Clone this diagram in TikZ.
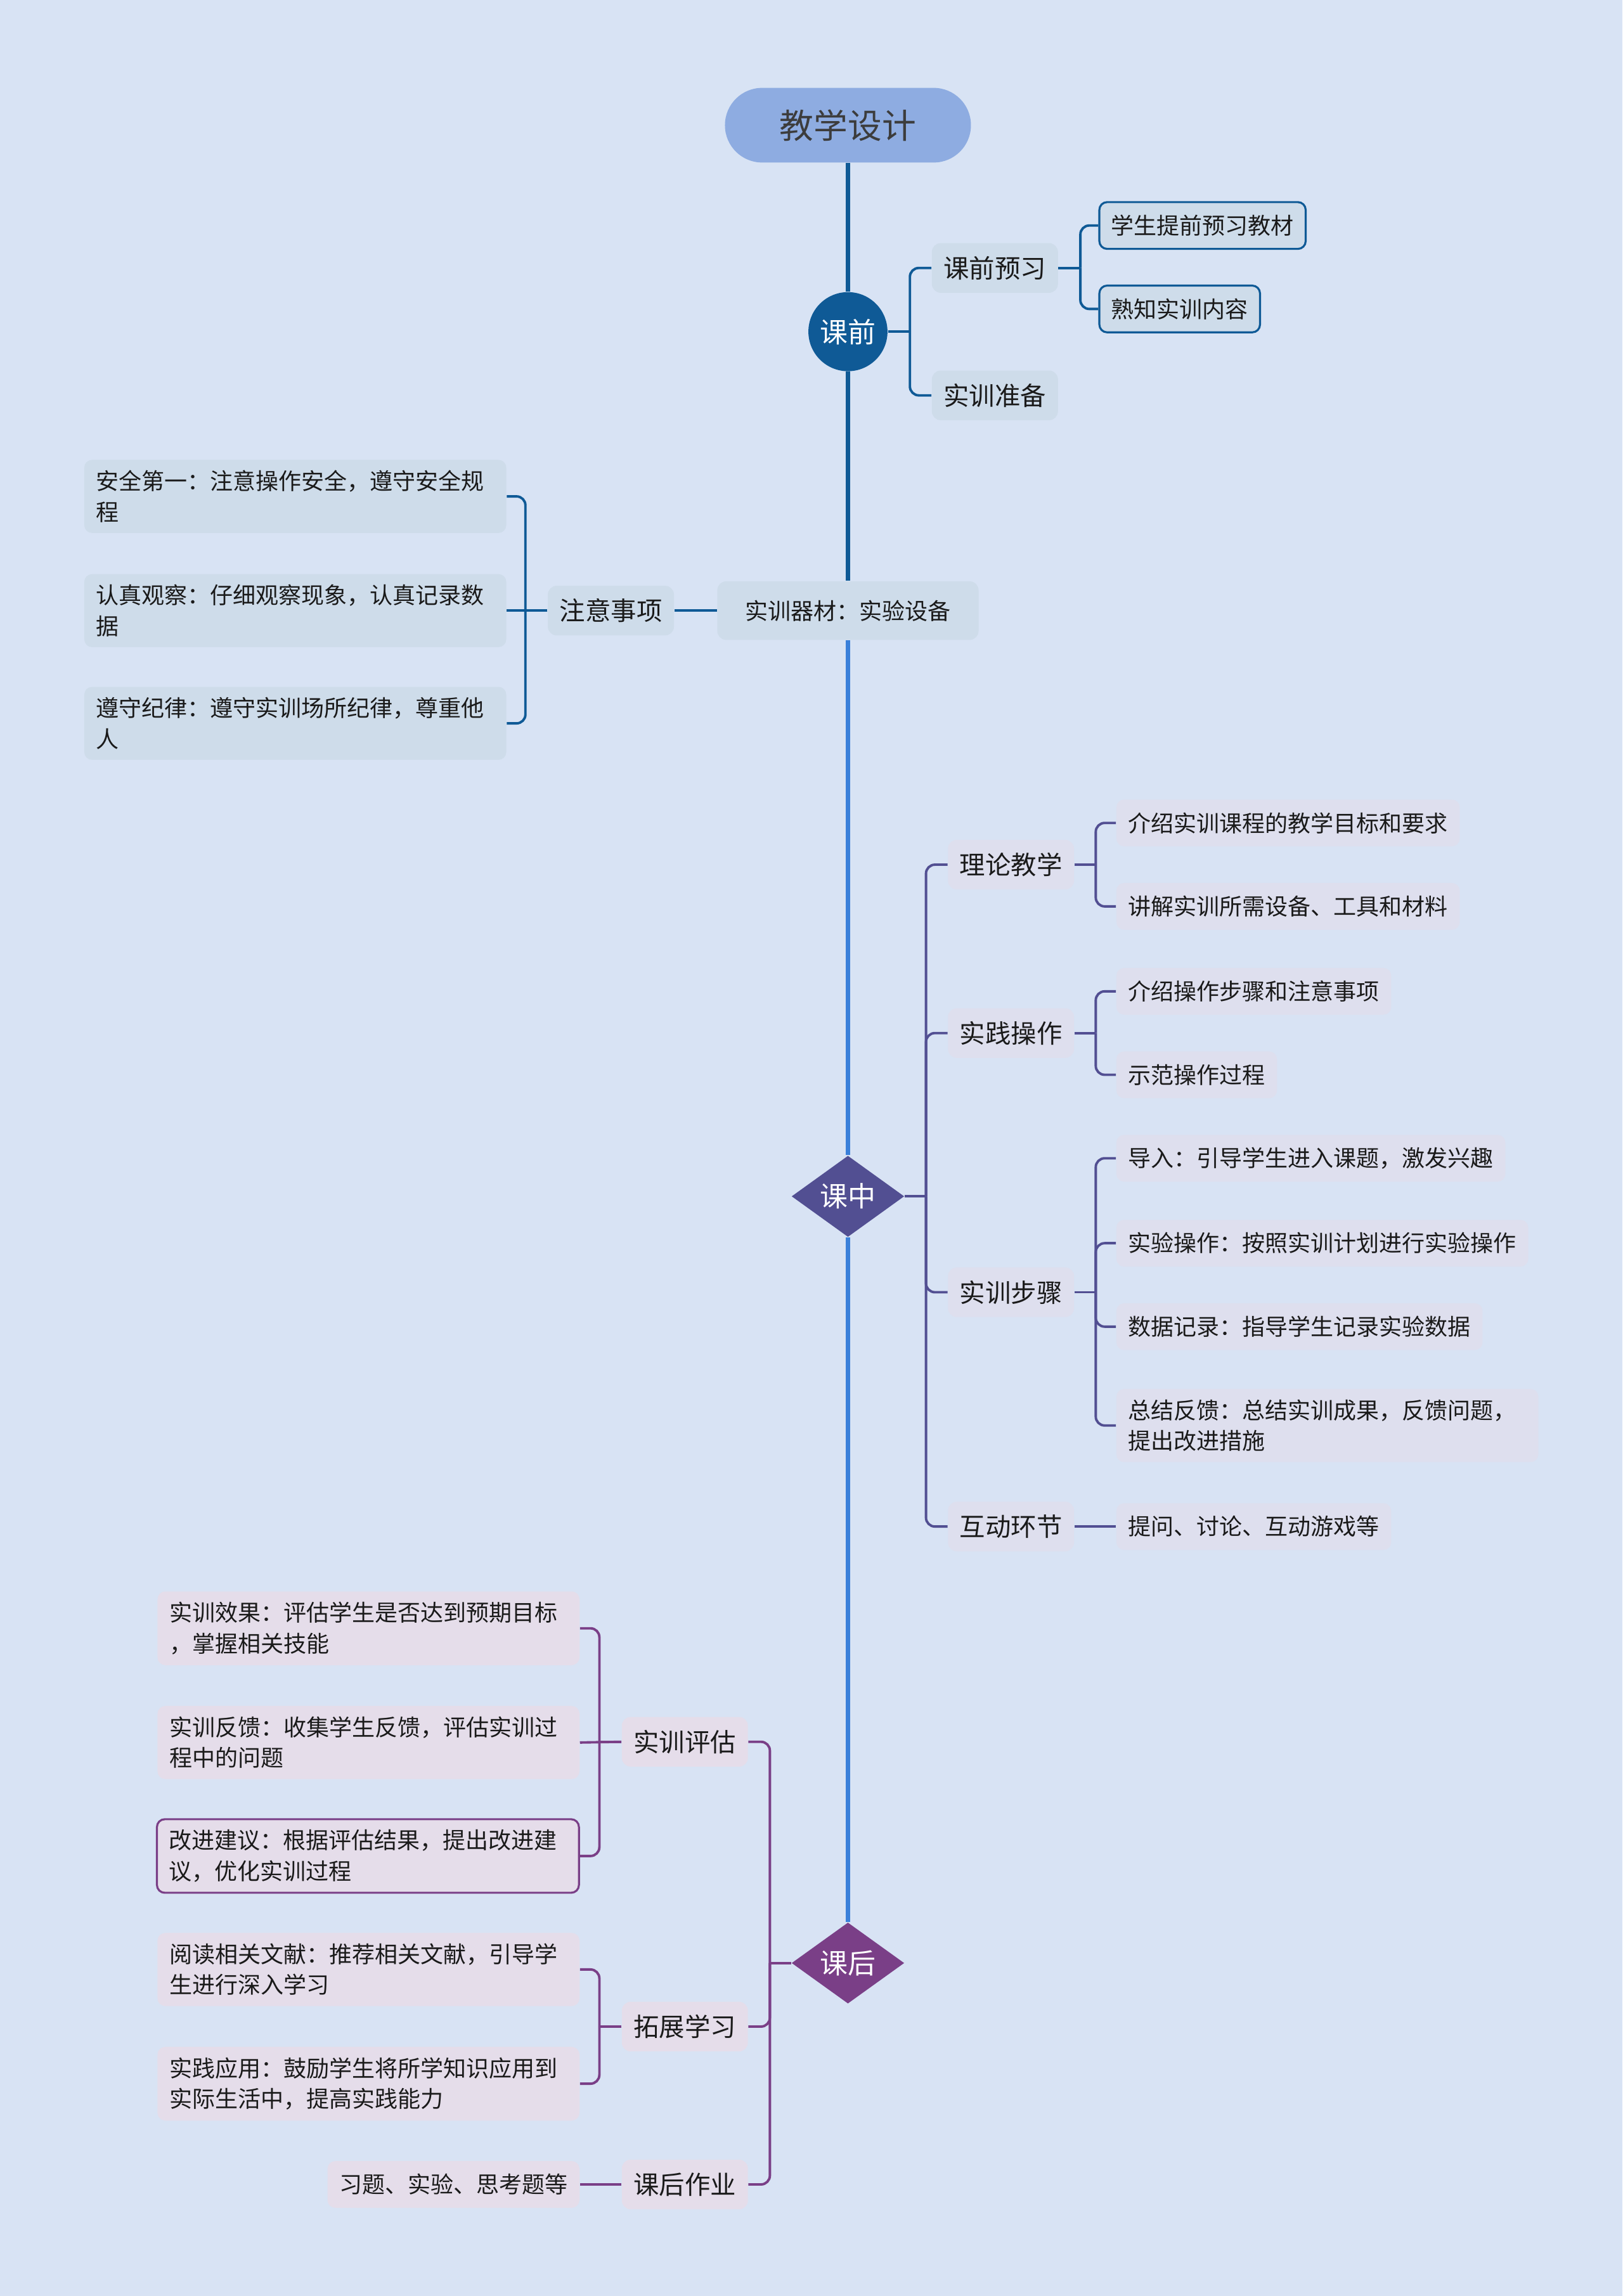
\documentclass[tikz,border=0pt]{standalone}
\usepackage{fontspec}
\setmainfont{Noto Sans CJK SC}
\usetikzlibrary{shapes.geometric, positioning}
\definecolor{MapBg}{HTML}{D8E3F4}
\definecolor{RootBlue}{HTML}{8EACE1}
\definecolor{PreDark}{HTML}{0F5A96}
\definecolor{TrunkBlue}{HTML}{3A80DA}
\definecolor{MidPurple}{HTML}{524F92}
\definecolor{PostPurple}{HTML}{7A3F87}
\definecolor{PreFill}{HTML}{CEDCEA}
\definecolor{MidFill}{HTML}{DEDFEE}
\definecolor{PostFill}{HTML}{E5DDEA}
\definecolor{InkGray}{HTML}{1A1A1A}

\newcommand{\leaffont}{\fontsize{10.25pt}{13.8pt}\selectfont}
\newcommand{\subfont}{\fontsize{11.5pt}{14pt}\selectfont}

\begin{document}
\begin{tikzpicture}[x=0.023105cm, y=-0.023105cm,
        rootbox/.style={rectangle, rounded corners=16.7pt, fill=RootBlue, minimum width=110.4pt, minimum height=33.5pt, text=InkGray!85, font=\fontsize{15.3pt}{18pt}\selectfont},
        stagecircle/.style={circle, fill=PreDark, minimum size=35.5pt, inner sep=0pt, text=white, font=\fontsize{12.5pt}{15pt}\selectfont},
        stagediamond/.style={diamond, minimum width=50.6pt, minimum height=32.9pt, inner sep=0pt, text=white, font=\fontsize{12.5pt}{15pt}\selectfont},
        subbox/.style={rectangle, rounded corners=4pt, minimum height=22.3pt, inner xsep=5.3pt, inner ysep=3pt, text=InkGray, font=\subfont},
        leafbox/.style={rectangle, rounded corners=3.5pt, minimum height=21pt, inner xsep=5.3pt, inner ysep=4.75pt, text=InkGray, font=\leaffont, align=left},
        widebox/.style={leafbox, text width=178.8pt},
        trunk/.style={line width=1.9pt},
        link/.style={line width=1.1pt},
        elbow/.style={link, rounded corners=4pt}]

        \fill[MapBg] (0,0) rectangle (1108,1568);
        \useasboundingbox (0,0) rectangle (1108,1568);

        % main line
        \node[rootbox] (root) at (579,85.5) {教学设计};
        \node[stagecircle] (pre) at (579,226.5) {课前};
        \node[subbox, fill=PreFill, minimum height=26.3pt, inner xsep=12.5pt, font=\leaffont] (equip) at (579,417) {实训器材：实验设备};
        \node[stagediamond, fill=MidPurple] (mid) at (579,817) {课中};
        \node[stagediamond, fill=PostPurple] (post) at (579,1340.6) {课后};

        % 课前
        \node[subbox, fill=PreFill, anchor=west] (preview) at (636,183) {课前预习};
        \node[subbox, fill=PreFill, anchor=west] (prepare) at (636,270) {实训准备};
        \node[leafbox, fill=PreFill, draw=PreDark, line width=0.9pt, anchor=west] (textbook) at (750,154) {学生提前预习教材};
        \node[leafbox, fill=PreFill, draw=PreDark, line width=0.9pt, anchor=west] (content) at (750,211) {熟知实训内容};

        % 注意事项
        \node[subbox, fill=PreFill, anchor=east] (notice) at (460.5,417) {注意事项};
        \node[widebox, fill=PreFill, anchor=east] (safety) at (346,339) {安全第一：注意操作安全，遵守安全规\\程};
        \node[widebox, fill=PreFill, anchor=east] (observe) at (346,417) {认真观察：仔细观察现象，认真记录数\\据};
        \node[widebox, fill=PreFill, anchor=east] (rules) at (346,494) {遵守纪律：遵守实训场所纪律，尊重他\\人};

        % 课中
        \node[subbox, fill=MidFill, anchor=west] (theory) at (647,590.5) {理论教学};
        \node[subbox, fill=MidFill, anchor=west] (practice) at (647,705.5) {实践操作};
        \node[subbox, fill=MidFill, anchor=west] (steps) at (647,882.5) {实训步骤};
        \node[subbox, fill=MidFill, anchor=west] (interact) at (647,1042.5) {互动环节};
        \node[leafbox, fill=MidFill, anchor=west] (goals) at (762,562) {介绍实训课程的教学目标和要求};
        \node[leafbox, fill=MidFill, anchor=west] (tools) at (762,619) {讲解实训所需设备、工具和材料};
        \node[leafbox, fill=MidFill, anchor=west] (procedure) at (762,677) {介绍操作步骤和注意事项};
        \node[leafbox, fill=MidFill, anchor=west] (demo) at (762,734) {示范操作过程};
        \node[leafbox, fill=MidFill, anchor=west] (intro) at (762,791) {导入：引导学生进入课题，激发兴趣};
        \node[leafbox, fill=MidFill, anchor=west] (experiment) at (762,849) {实验操作：按照实训计划进行实验操作};
        \node[leafbox, fill=MidFill, anchor=west] (record) at (762,906) {数据记录：指导学生记录实验数据};
        \node[widebox, fill=MidFill, anchor=west] (summary) at (762,973.5) {总结反馈：总结实训成果，反馈问题，\\提出改进措施};
        \node[leafbox, fill=MidFill, anchor=west] (qa) at (762,1042.5) {提问、讨论、互动游戏等};

        % 课后
        \node[subbox, fill=PostFill, anchor=east] (assess) at (511,1189.5) {实训评估};
        \node[subbox, fill=PostFill, anchor=east] (extend) at (511,1384) {拓展学习};
        \node[subbox, fill=PostFill, anchor=east] (homework) at (511,1491.8) {课后作业};
        \node[widebox, fill=PostFill, anchor=east] (effect) at (396,1112) {实训效果：评估学生是否达到预期目标\\，掌握相关技能};
        \node[widebox, fill=PostFill, anchor=east] (feedback) at (396,1190) {实训反馈：收集学生反馈，评估实训过\\程中的问题};
        \node[widebox, fill=PostFill, draw=PostPurple, line width=0.9pt, anchor=east] (improve) at (396,1267.5) {改进建议：根据评估结果，提出改进建\\议，优化实训过程};
        \node[widebox, fill=PostFill, anchor=east] (reading) at (396,1345) {阅读相关文献：推荐相关文献，引导学\\生进行深入学习};
        \node[widebox, fill=PostFill, anchor=east] (apply) at (396,1423) {实践应用：鼓励学生将所学知识应用到\\实际生活中，提高实践能力};
        \node[leafbox, fill=PostFill, anchor=east] (exercise) at (396,1491.8) {习题、实验、思考题等};

        % trunk
        \draw[trunk, PreDark] (root.south) -- (pre.north);
        \draw[trunk, PreDark] (pre.south) -- (equip.north);
        \draw[trunk, TrunkBlue] (equip.south) -- (mid.north);
        \draw[trunk, TrunkBlue] (mid.south) -- (post.north);

        % branches of 课前
        \draw[link, PreDark] (pre.east) -- ++(15,0);
        \foreach \c in {preview, prepare}
            \draw[elbow, PreDark] (pre.east) ++(15,0) |- (\c.west);
        \draw[link, PreDark] (preview.east) -- ++(15,0);
        \foreach \c in {textbook, content}
            \draw[elbow, PreDark] (preview.east) ++(15,0) |- (\c.west);
        \draw[link, PreDark] (equip.west) -- (notice.east);
        \draw[link, PreDark] (notice.west) -- ++(-15,0);
        \foreach \c in {safety, rules}
            \draw[elbow, PreDark] (notice.west) ++(-15,0) |- (\c.east);
        \draw[link, PreDark] (notice.west) -- (observe.east);

        % branches of 课中
        \draw[link, MidPurple] (mid.east) -- ++(14.5,0);
        \foreach \c in {theory, practice, steps, interact}
            \draw[elbow, MidPurple] (mid.east) ++(14.5,0) |- (\c.west);
        \draw[link, MidPurple] (theory.east) -- ++(14.5,0);
        \foreach \c in {goals, tools}
            \draw[elbow, MidPurple] (theory.east) ++(14.5,0) |- (\c.west);
        \draw[link, MidPurple] (practice.east) -- ++(14.5,0);
        \foreach \c in {procedure, demo}
            \draw[elbow, MidPurple] (practice.east) ++(14.5,0) |- (\c.west);
        \draw[link, MidPurple] (steps.east) -- ++(14.5,0);
        \foreach \c in {intro, experiment, record, summary}
            \draw[elbow, MidPurple] (steps.east) ++(14.5,0) |- (\c.west);
        \draw[link, MidPurple] (interact.east) -- (qa.west);

        % branches of 课后
        \draw[link, PostPurple] (post.west) -- ++(-14.5,0);
        \foreach \c in {assess, extend, homework}
            \draw[elbow, PostPurple] (post.west) ++(-14.5,0) |- (\c.east);
        \draw[link, PostPurple] (assess.west) -- ++(-15,0);
        \foreach \c in {effect, improve}
            \draw[elbow, PostPurple] (assess.west) ++(-15,0) |- (\c.east);
        \draw[link, PostPurple] (assess.west) -- (feedback.east);
        \draw[link, PostPurple] (extend.west) -- ++(-15,0);
        \foreach \c in {reading, apply}
            \draw[elbow, PostPurple] (extend.west) ++(-15,0) |- (\c.east);
        \draw[link, PostPurple] (homework.west) -- (exercise.east);
\end{tikzpicture}
\end{document}
